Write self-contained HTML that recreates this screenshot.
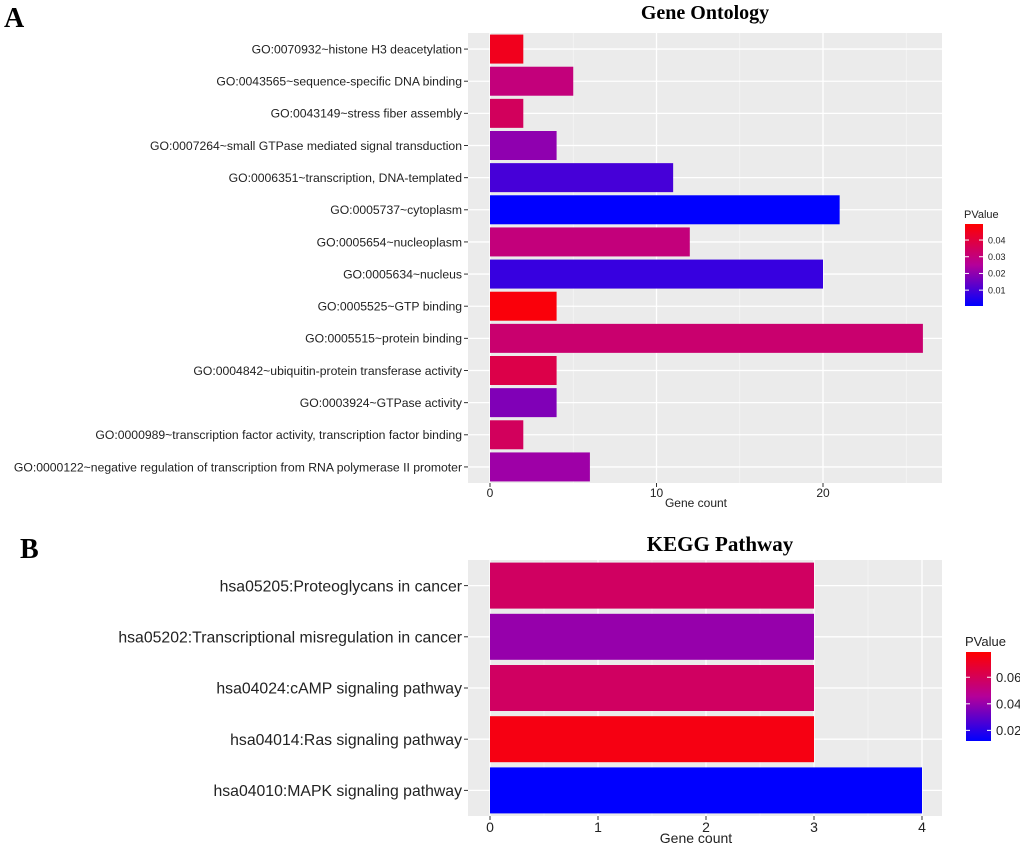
<!DOCTYPE html>
<html><head><meta charset="utf-8"><style>
body{margin:0;background:#fff;}
svg text{font-family:"Liberation Sans",sans-serif;}
</style></head><body>
<svg id="chart" width="1020" height="844" xmlns="http://www.w3.org/2000/svg">
<defs>
<linearGradient id="gA" x1="0" y1="1" x2="0" y2="0"><stop offset="0" stop-color="#0000ff"/><stop offset="0.5" stop-color="#b4009a"/><stop offset="1" stop-color="#ff0000"/></linearGradient>
</defs>
<text x="4" y="27" font-weight="bold" font-size="28" style="font-family:'Liberation Serif',serif">A</text>
<text x="20" y="558" font-weight="bold" font-size="28" style="font-family:'Liberation Serif',serif">B</text>
<text x="705" y="19" text-anchor="middle" font-weight="bold" font-size="20" style="font-family:'Liberation Serif',serif">Gene Ontology</text>
<text x="720" y="551" text-anchor="middle" font-weight="bold" font-size="21" style="font-family:'Liberation Serif',serif">KEGG Pathway</text>
<g id="pA"></g><g id="pB"></g>
</svg>
<script>
const goCats=["GO:0070932~histone H3 deacetylation","GO:0043565~sequence-specific DNA binding","GO:0043149~stress fiber assembly","GO:0007264~small GTPase mediated signal transduction","GO:0006351~transcription, DNA-templated","GO:0005737~cytoplasm","GO:0005654~nucleoplasm","GO:0005634~nucleus","GO:0005525~GTP binding","GO:0005515~protein binding","GO:0004842~ubiquitin-protein transferase activity","GO:0003924~GTPase activity","GO:0000989~transcription factor activity, transcription factor binding","GO:0000122~negative regulation of transcription from RNA polymerase II promoter"];
const goCounts=[2,5,2,4,11,21,12,20,4,26,4,4,2,6];
const goP=[0.045,0.030,0.035,0.020,0.010,0.0005,0.030,0.008,0.048,0.032,0.038,0.018,0.035,0.022];
const goTicks=[0,10,20];
const goLegTicks=[0.01,0.02,0.03,0.04];
const keggCats=["hsa05205:Proteoglycans in cancer","hsa05202:Transcriptional misregulation in cancer","hsa04024:cAMP signaling pathway","hsa04014:Ras signaling pathway","hsa04010:MAPK signaling pathway"];
const keggCounts=[3,3,3,3,4];
const keggP=[0.058,0.040,0.058,0.075,0.012];
const keggTicks=[0,1,2,3,4];
const keggLegTicks=[0.02,0.04,0.06];
const NS="http://www.w3.org/2000/svg";
function mk(p,t,a){const e=document.createElementNS(NS,t);for(const k in a)e.setAttribute(k,a[k]);p.appendChild(e);return e;}
function col(t){t=Math.max(0,Math.min(1,t));let r,g=0,b;
 if(t<0.5){const u=t/0.5;r=180*u;b=255-(255-154)*u;}else{const u=(t-0.5)/0.5;r=180+(255-180)*u;b=154*(1-u);}
 return `rgb(${Math.round(r)},${g},${Math.round(b)})`;}
function panel(g,o){
 const {cats,counts,pv,ticks,legTicks,L,R,T,B,x0,ppu,bh,fs,tfs,xtY,pmin,pmax,leg}=o;
 const x=v=>x0+v*ppu; const n=cats.length; const step=(B-T)/n; const y=i=>T+step*(i+0.5);
 const bg=mk(g,'rect',{x:L,y:T,width:R-L,height:B-T,fill:'#ebebeb'});
 
 for(let v=ticks[0]+(ticks[1]-ticks[0])/2; x(v)<R; v+=(ticks[1]-ticks[0])){mk(g,'line',{x1:x(v),x2:x(v),y1:T,y2:B,stroke:'#f5f5f5','stroke-width':0.8});}
 ticks.forEach(v=>{mk(g,'line',{x1:x(v),x2:x(v),y1:T,y2:B,stroke:'#fff','stroke-width':1.3});
  mk(g,'line',{x1:x(v),x2:x(v),y1:B,y2:B+4,stroke:'#333'});
  const t=mk(g,'text',{x:x(v),y:B+4+tfs*0.85,'text-anchor':'middle','font-size':tfs,fill:'#222'});t.textContent=v;
  });
 cats.forEach((c,i)=>{mk(g,'line',{x1:L,x2:R,y1:y(i),y2:y(i),stroke:'#fff','stroke-width':1.3});
  mk(g,'line',{x1:L-4,x2:L,y1:y(i),y2:y(i),stroke:'#333'});
  const t=mk(g,'text',{x:L-6,y:y(i)+fs*0.36,'text-anchor':'end','font-size':fs,fill:'#222'});t.textContent=c;
  
  const r=mk(g,'rect',{x:x(0),y:y(i)-bh/2,width:x(counts[i])-x(0),height:bh,fill:col((pv[i]-pmin)/(pmax-pmin))});
  });
 const xt=mk(g,'text',{x:x0+(R-x0)/2-20,y:xtY,'text-anchor':'middle','font-size':tfs,fill:'#222'});xt.textContent='Gene count';
 
 const lt=mk(g,'text',{x:leg.x,y:leg.y-6,'font-size':leg.fs,fill:'#222'});lt.textContent='PValue';
 
 const lb=mk(g,'rect',{x:leg.x+1,y:leg.y,width:leg.w,height:leg.h,fill:'url(#gA)'});
 
 legTicks.forEach(v=>{const yy=leg.y+leg.h*(1-(v-pmin)/(pmax-pmin));
  mk(g,'line',{x1:leg.x+1,x2:leg.x+5,y1:yy,y2:yy,stroke:'#fff'});mk(g,'line',{x1:leg.x+leg.w-3,x2:leg.x+leg.w+1,y1:yy,y2:yy,stroke:'#fff'});
  const t=mk(g,'text',{x:leg.x+leg.w+6,y:yy+leg.tfs*0.36,'font-size':leg.tfs,fill:'#222'});t.textContent=v.toFixed(2);
  });
}
panel(document.getElementById('pA'),{cats:goCats,counts:goCounts,pv:goP,ticks:goTicks,legTicks:goLegTicks,L:468,R:942,T:33,B:483,x0:490,ppu:16.65,bh:29,fs:12.2,tfs:12,xtY:507,pmin:0.0005,pmax:0.0496,leg:{x:964,y:224,w:18,h:82,fs:11,tfs:9}});
panel(document.getElementById('pB'),{cats:keggCats,counts:keggCounts,pv:keggP,ticks:keggTicks,legTicks:keggLegTicks,L:468,R:942,T:560,B:816,x0:490,ppu:108,bh:46,fs:15.8,tfs:14,xtY:843,pmin:0.012,pmax:0.079,leg:{x:965,y:652,w:25,h:89,fs:13,tfs:13}});
</script>
</body></html>
